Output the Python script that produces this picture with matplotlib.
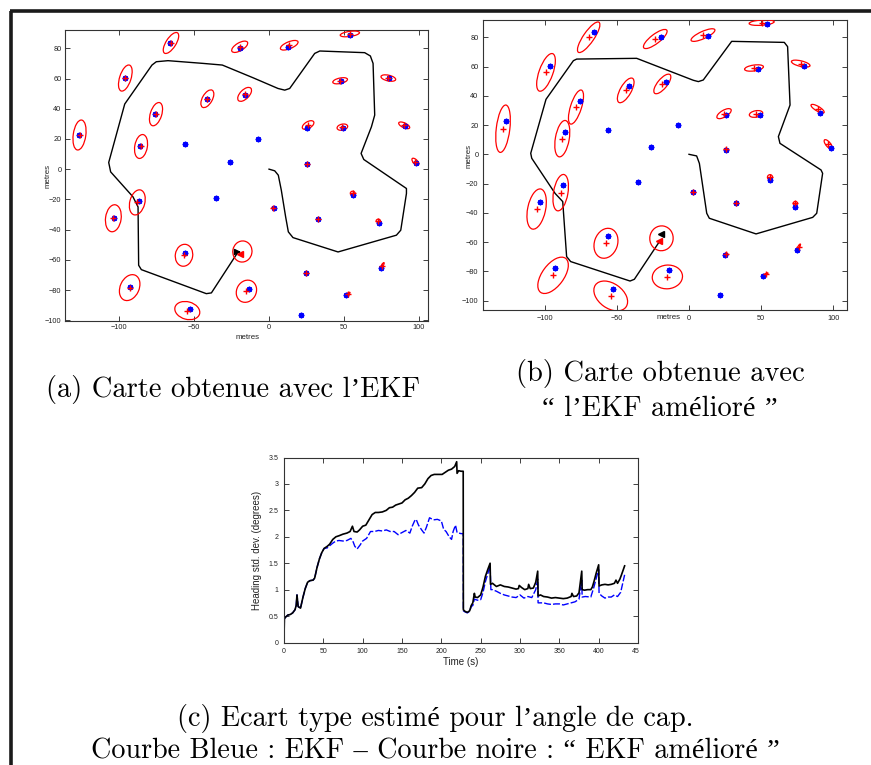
import numpy as np
import matplotlib
matplotlib.use("Agg")
import matplotlib.pyplot as plt
from matplotlib.patches import Ellipse
from matplotlib.lines import Line2D
from matplotlib.transforms import Bbox, TransformedBbox

# ---------------- data ----------------
# true landmark positions (blue asterisks), shared by both maps
lm_x = [-66, -19.6, 13, 54.3, -96.3, 47.9, 80, -41.6, -16.2, -75.9, -126.8, 25.4,
        49.2, 91.1, -86, -56.1, -7.4, -26.1, 25.5, 98.5, -35.3, -87.1, -103.4, 3,
        56, 32.9, 73.4, -56, 24.7, 75, -92.8, -13.7, 51.5, -52.9, 21.2]
lm_y = [83.6, 80.2, 81, 89, 60.6, 58.2, 60.1, 46.4, 49.2, 36.3, 22.7, 27.1,
        27.2, 28.5, 15.1, 16.4, 19.7, 4.8, 3.2, 4, -19.1, -21.3, -32.3, -25.7,
        -17.4, -33, -35.7, -55.8, -68.5, -65.4, -77.7, -79.1, -83, -92.3, -96.3]

nan = np.nan
# map (a): EKF estimates (red +) and ellipse (semi-axis a, semi-axis b, angle)
est_a_x = [-65.5, -19.6, 13.5, 54, -96, 47.5, 79.7, -41.2, -16.3, -75.5, -126.6, 26.1,
           49, 90.3, -85.5, nan, nan, nan, 25.6, 97.8, nan, -88, -104, 2.9,
           55.9, 32.7, 73, -56.8, 24.9, 75.7, -93.1, -15.1, 52.8, -54.6, nan]
est_a_y = [83.5, 81, 82, 89.5, 60.3, 58.5, 60.3, 46.6, 49.5, 36.4, 22.6, 29.2,
           27.8, 29, 15, nan, nan, nan, 3.4, 4.9, nan, -22, -32.5, -25.6,
           -16, -33, -34.2, -57, -68.4, -63.8, -78.4, -80.8, -82.4, -93.6, nan]
ell_a_w = [8, 6, 6.3, 6.5, 9, 5, 5, 6.5, 5.8, 8, 10, 4.3,
           3.6, 4, 8, nan, nan, nan, 1.0, 3, nan, 8.5, 9, 1.0,
           1.6, 1.0, 1.4, 7.3, 1.0, 2.2, 9, 7.6, 1.5, 8.5, nan]
ell_a_h = [3.3, 2.6, 2.3, 1.7, 3.8, 1.8, 1.9, 3.3, 3, 3.8, 4.2, 2.2,
           2, 1.6, 4.2, nan, nan, nan, 0.8, 1.4, nan, 5, 5.2, 0.8,
           1.4, 0.8, 1.1, 5.8, 0.7, 0.6, 6.3, 6.5, 0.5, 5.8, nan]
ell_a_ang = [57, 30, 22, 8, 72, 12, -12, 60, 45, 72, 82, 30,
             12, -25, 80, 0, 0, 0, 0, -45, 0, 75, 82, 0,
             0, 0, 0, 80, 0, 60, 65, 60, 30, -15, 0]

# map (b): improved EKF estimates and ellipses
est_b_x = [-69.6, -23.4, 9.7, 50.4, -99.2, 45.1, 77.5, -43.9, -18.5, -78.4, -129, 24.3,
           46.5, 89.2, -87.9, nan, nan, nan, 25.5, 96.6, nan, -89, -105.7, 3,
           56.2, 32.9, 73.8, -57.6, 25.9, 76, -94.3, -15, 53.2, -54.3, nan]
est_b_y = [80, 78.8, 81.5, 90, 56, 59, 62, 43.7, 48.1, 32.3, 17.5, 27.8,
           27.6, 31.2, 10.7, nan, nan, nan, 3.4, 6.8, nan, -26.2, -37.4, -25.6,
           -15.7, -33, -33.5, -60.8, -68.1, -63.5, -82.7, -83.8, -82, -96.8, nan]
ell_b_w = [12.5, 10, 9, 8.7, 13.6, 6.6, 6.6, 9.5, 8.3, 12.2, 16.3, 5.6,
           4.7, 5.2, 12.6, nan, nan, nan, 1.0, 4, nan, 12.6, 14, 1.0,
           1.8, 1.0, 1.5, 10.5, 1.0, 2.5, 14.5, 10.5, 1.8, 13, nan]
ell_b_h = [3.7, 3.2, 2.5, 1.8, 4.8, 2, 1.9, 3.8, 3.3, 3.8, 4.7, 2.3,
           2.2, 1.6, 4.8, nan, nan, nan, 0.8, 1.6, nan, 5, 6.2, 0.8,
           1.8, 0.8, 1.3, 8, 0.7, 0.6, 7.5, 8.1, 0.5, 8.5, nan]
ell_b_ang = [55, 37, 24, 4, 70, 8, -13, 60, 50, 72, 83, 30,
             10, -30, 80, 0, 0, 0, 0, -50, 0, 80, 78, 0,
             0, 0, 0, 70, 0, 60, 53, 5, 30, -35, 0]

# vehicle trajectories
traj_a_x = [0, 3.8, 6.2, 8.2, 11.1, 12.9, 16, 46.1, 85.1, 88, 91.8, 91.8, 63.3, 61.5,
            68.4, 70.6, 69.5, 67.7, 63.9, 33.9, 30.5, 13.8, 10.5, 6, -10.7, -31.2,
            -44.1, -67.5, -75.3, -78.2, -96.4, -107.1, -105.8, -90.9, -87.5, -87.1,
            -85.3, -41.9, -38.5, -20.7]
traj_a_y = [0, -1.1, -4, -13.9, -31.6, -41.5, -45.3, -54.8, -43.7, -40.4, -16.1, -12.8,
            6.4, 10.4, 28, 35.8, 70, 74.9, 77.1, 78.2, 76.6, 53.4, 52.3, 53.4, 60.5,
            68.9, 70, 71.8, 71.1, 68.9, 43.1, 4.4, -1.8, -18.3, -25, -63.6, -66.5,
            -82.4, -81.9, -54.8]
traj_b_x = [0, 5.3, 7.2, 12.3, 14.1, 46.5, 85.8, 88.6, 92.7, 91.6, 63.1, 62, 70.1,
            68.4, 66.1, 29.6, 9.9, 6.5, 3, -36.3, -77.9, -80.2, -99.2, -109.8, -109.1,
            -92.9, -87.6, -84.9, -82.1, -40.9, -37.9, -21.3]
traj_b_y = [0, -1.1, -6.2, -40.3, -43.7, -54.4, -43.1, -40.3, -13, -10.7, 7.5, 12.1,
            33.7, 73.6, 76.5, 77.2, 50.8, 49.7, 50.6, 65.6, 65.1, 64, 37.6, 0.7, -2.7,
            -26.7, -32.3, -69.9, -73.3, -86.6, -85.4, -60.8]

# robot poses: true (black) and estimated (red), and pose ellipse
robot_a_true = (-18.7, -54.8)
robot_a_est = (-19.6, -56.3)
robot_a_ell = (-17.8, -54.5, 7.0, 6.4, 80)
robot_b_true = (-19.4, -54.4)
robot_b_est = (-20.6, -59.5)
robot_b_ell = (-19.1, -57.4, 8.5, 8.1, 80)

# heading std dev (panel c)
t_black = [0, 0.5, 2, 5, 8, 11, 14, 15.5, 16.5, 18, 21, 24, 27, 30, 33, 37, 39, 42, 45,
           48, 51, 55, 58, 62, 66, 70, 75, 80, 84, 87, 89, 93, 96, 100, 104, 108, 112,
           116, 120, 125, 130, 134, 138, 142, 146, 150, 154, 158, 162, 166, 170, 175,
           179, 183, 187, 191, 196, 201, 205, 209, 213, 217, 219.5, 220, 222, 225,
           227.8, 228, 230, 233, 236, 238, 240, 242, 243, 246, 250, 253, 256, 259, 262,
           262.5, 265, 270, 275, 280, 285, 290, 295, 298, 299, 302, 306, 310, 311, 313,
           317, 320, 322.5, 323, 326, 330, 335, 340, 345, 350, 355, 360, 365, 366, 368,
           372, 375, 378.5, 379, 382, 386, 390, 392, 394, 397, 400, 400.5, 404, 408,
           412, 416, 420, 422, 424, 427, 429, 433]
sd_black = [0.1, 0.45, 0.48, 0.52, 0.53, 0.56, 0.62, 0.7, 0.9, 0.68, 0.65, 0.85, 1.02,
            1.14, 1.17, 1.18, 1.22, 1.42, 1.58, 1.7, 1.78, 1.82, 1.86, 1.95, 2.0, 2.02,
            2.05, 2.07, 2.1, 2.2, 2.1, 2.09, 2.13, 2.2, 2.22, 2.32, 2.42, 2.46, 2.46,
            2.47, 2.5, 2.55, 2.56, 2.6, 2.62, 2.64, 2.7, 2.73, 2.78, 2.84, 2.92, 2.93,
            3.0, 3.1, 3.16, 3.18, 3.18, 3.18, 3.22, 3.26, 3.28, 3.33, 3.42, 3.2, 3.25,
            3.24, 3.24, 0.62, 0.59, 0.57, 0.6, 0.7, 0.75, 0.93, 0.86, 0.85, 0.9, 1.05,
            1.25, 1.38, 1.5, 1.1, 1.12, 1.06, 1.09, 1.06, 1.05, 1.03, 1.01, 1.02, 1.08,
            1.04, 1.0, 1.02, 1.1, 1.02, 1.03, 1.14, 1.35, 0.88, 0.9, 0.87, 0.86, 0.84,
            0.85, 0.84, 0.83, 0.84, 0.87, 0.93, 0.87, 0.88, 0.94, 1.35, 1.0, 0.99, 1.0,
            1.0, 1.05, 1.15, 1.32, 1.47, 1.07, 1.09, 1.1, 1.09, 1.1, 1.12, 1.18, 1.12,
            1.2, 1.28, 1.45]
t_blue = [0, 0.5, 2, 5, 8, 11, 14, 15.5, 16.5, 18, 21, 24, 27, 30, 33, 37, 39, 42, 45,
          48, 51, 55, 58, 62, 66, 70, 75, 80, 85, 88, 90, 93, 97, 100, 105, 110, 115,
          120, 125, 130, 135, 140, 145, 150, 155, 160, 163, 166, 168, 171, 175, 178,
          181, 185, 190, 195, 200, 203, 206, 210, 213, 215, 218, 220, 225, 227.8, 228,
          230, 233, 236, 238, 240, 242, 246, 250, 253, 256, 259, 262, 263, 265, 270,
          275, 280, 285, 290, 295, 300, 305, 310, 315, 320, 322.5, 323, 330, 335, 340,
          345, 350, 355, 360, 365, 370, 375, 378.5, 379, 383, 390, 394, 397, 400, 400.5,
          404, 408, 412, 416, 420, 424, 428, 431, 433]
sd_blue = [0.1, 0.45, 0.48, 0.52, 0.53, 0.56, 0.62, 0.7, 0.9, 0.68, 0.65, 0.85, 1.02,
           1.14, 1.17, 1.18, 1.22, 1.42, 1.58, 1.7, 1.78, 1.79, 1.83, 1.88, 1.92, 1.93,
           1.92, 1.93, 1.97, 1.9, 1.82, 1.77, 1.85, 1.92, 1.97, 2.1, 2.1, 2.12, 2.11,
           2.13, 2.1, 2.1, 2.04, 2.08, 2.12, 2.07, 2.2, 2.3, 2.33, 2.22, 2.13, 2.07,
           2.18, 2.36, 2.32, 2.33, 2.3, 2.14, 2.1, 2.0, 1.95, 2.1, 2.22, 2.08, 2.06,
           2.06, 0.6, 0.58, 0.56, 0.59, 0.68, 0.7, 0.82, 0.8, 0.81, 0.95, 1.15, 1.3,
           1.45, 1.0, 1.0, 0.97, 0.93, 0.9, 0.88, 0.86, 0.85, 0.9, 0.84, 0.87, 0.85,
           1.0, 1.2, 0.75, 0.75, 0.73, 0.72, 0.73, 0.73, 0.71, 0.73, 0.75, 0.77, 0.82,
           1.18, 0.86, 0.87, 0.86, 1.05, 1.22, 1.38, 0.93, 0.88, 0.84, 0.86, 0.86, 0.9,
           0.87, 0.95, 1.15, 1.28]

map_xticks = [-100, -50, 0, 50, 100]
map_yticks = [-100, -80, -60, -40, -20, 0, 20, 40, 60, 80]
c_xticks = [0, 50, 100, 150, 200, 250, 300, 350, 400, 450]
c_yticks = [0, 0.5, 1, 1.5, 2, 2.5, 3, 3.5]

caption_a = "(a) Carte obtenue avec l\u2019EKF"
caption_b = "(b) Carte obtenue avec\n\u201c l\u2019EKF am\u00e9lior\u00e9 \u201d"
caption_c = ("(c) Ecart type estim\u00e9 pour l\u2019angle de cap.\n"
             "Courbe Bleue : EKF \u2013 Courbe noire : \u201c EKF am\u00e9lior\u00e9 \u201d")

# ---------------- figure ----------------
W, H = 871, 765
fig = plt.figure(figsize=(W / 100, H / 100), dpi=100)
plt.rcParams['font.family'] = ['Liberation Sans', 'DejaVu Sans']
SERIF = ['cmr10', 'Liberation Serif', 'DejaVu Serif']
TICKC = '#222222'


def ax_rect(l, t, r, b):
    return [l / W, 1 - b / H, (r - l) / W, (b - t) / H]


def style_axes(ax, size, pad):
    ax.tick_params(direction='in', length=3.4, width=0.6, top=True, right=True,
                   labelsize=size, colors=TICKC, pad=pad)
    for s in ax.spines.values():
        s.set_linewidth(0.8)
        s.set_color('#333333')


def draw_map(ax, ex, ey, ew, eh, ea, tx, ty, rtrue, rest, rell, xlim, ylim, arrow):
    ax.plot(tx, ty, color='k', lw=1.0, zorder=2)
    for cx, cy, a, b, ang in zip(ex, ey, ew, eh, ea):
        if np.isnan(cx) or np.isnan(a):
            continue
        ax.add_patch(Ellipse((cx, cy), 2 * a, 2 * b, angle=ang, fill=False,
                             edgecolor='#ff0000', lw=0.9, zorder=3))
    cx, cy, a, b, ang = rell
    ax.add_patch(Ellipse((cx, cy), 2 * a, 2 * b, angle=ang, fill=False,
                         edgecolor='#ff0000', lw=0.9, zorder=3))
    ax.plot(lm_x, lm_y, linestyle='none', marker=(8, 2, 0), ms=4.0, mew=1.1,
            color='#0000ff', zorder=4)
    ax.plot(ex, ey, linestyle='none', marker='+', ms=5.0, mew=1.0,
            color='#ff0000', zorder=5)
    if arrow:
        ax.annotate('', xy=rtrue, xytext=(tx[-1], ty[-1]),
                    arrowprops=dict(arrowstyle='-|>', color='k', lw=1.0,
                                    mutation_scale=9, shrinkA=0, shrinkB=0),
                    zorder=6)
    else:
        ax.plot([rtrue[0]], [rtrue[1]], marker='<', ms=4.5, color='k',
                linestyle='none', zorder=6)
    ax.plot([rest[0]], [rest[1]], marker='<', ms=4.0, color='#ff0000',
            linestyle='none', zorder=7)
    ax.set_xlim(*xlim)
    ax.set_ylim(*ylim)
    ax.set_xticks(map_xticks)
    ax.set_yticks(map_yticks)


# panel (a)
axa = fig.add_axes(ax_rect(65, 30, 428, 321))
draw_map(axa, est_a_x, est_a_y, ell_a_w, ell_a_h, ell_a_ang, traj_a_x, traj_a_y,
         robot_a_true, robot_a_est, robot_a_ell, (-136.3, 106.2), (-100.5, 92.1), True)
style_axes(axa, 5.3, 2.5)
axa.set_xlabel('metres', fontsize=5.7, color=TICKC)
axa.set_ylabel('metres', fontsize=5.7, color=TICKC)
axa.xaxis.set_label_coords(0.504, -0.046)
axa.yaxis.set_label_coords(-0.037, 0.499)

# panel (b)
axb = fig.add_axes(ax_rect(483.3, 20, 846.7, 310))
draw_map(axb, est_b_x, est_b_y, ell_b_w, ell_b_h, ell_b_ang, traj_b_x, traj_b_y,
         robot_b_true, robot_b_est, robot_b_ell, (-142.7, 109.4), (-106.4, 91.8), False)
style_axes(axb, 5.3, 3.5)
axb.set_xlabel('metres', fontsize=5.7, color=TICKC)
axb.set_ylabel('metres', fontsize=5.7, color=TICKC)
axb.xaxis.set_label_coords(0.509, -0.015)
axb.yaxis.set_label_coords(-0.031, 0.53)

# panel (c)
axc = fig.add_axes(ax_rect(284, 457.5, 638, 642.5))
axc.plot(t_blue, sd_blue, color='#0000ff', lw=1.0, dashes=(5, 1.5))
axc.plot(t_black, sd_black, color='k', lw=1.2)
axc.set_xlim(0, 450)
axc.set_ylim(0, 3.5)
axc.set_xticks(c_xticks)
axc.set_yticks(c_yticks)
axc.set_yticklabels(['%g' % v for v in c_yticks])
axc.set_xticklabels(['%g' % v for v in c_xticks])
style_axes(axc, 5.0, 4.0)
axc.set_xlabel('Time (s)', fontsize=7, color=TICKC)
axc.set_ylabel('Heading std. dev. (degrees)', fontsize=7, color=TICKC)
axc.xaxis.set_label_coords(0.5, -0.076)
axc.yaxis.set_label_coords(-0.062, 0.5)
# the original graphic is cropped just right of the axes
clip = TransformedBbox(Bbox([[0, 0], [639 / W, 1]]), fig.transFigure)
for tk in axc.xaxis.get_major_ticks():
    tk.label1.set_clip_box(clip)
    tk.label1.set_clip_on(True)

# captions
fig.text(233 / W, 1 - 389 / H, caption_a, ha='center', va='center', fontsize=20.5,
         family=SERIF)
fig.text(660 / W, 1 - 390.5 / H, caption_b, ha='center', va='center', fontsize=20.5,
         family=SERIF, multialignment='center', linespacing=1.33)
fig.text(435 / W, 1 - 734.5 / H, caption_c, ha='center', va='center', fontsize=20.3,
         family=SERIF, multialignment='center', linespacing=1.27)

# page frame (left and top rules)
fig.add_artist(Line2D([10.8 / W, 10.8 / W], [0, 1 - 11.3 / H], transform=fig.transFigure,
                      color='#1a1a1a', lw=2.6, solid_capstyle='butt'))
fig.add_artist(Line2D([9.5 / W, 1], [1 - 11.3 / H, 1 - 11.3 / H], transform=fig.transFigure,
                      color='#1a1a1a', lw=2.6, solid_capstyle='butt'))

fig.savefig('out.png', dpi=100)
